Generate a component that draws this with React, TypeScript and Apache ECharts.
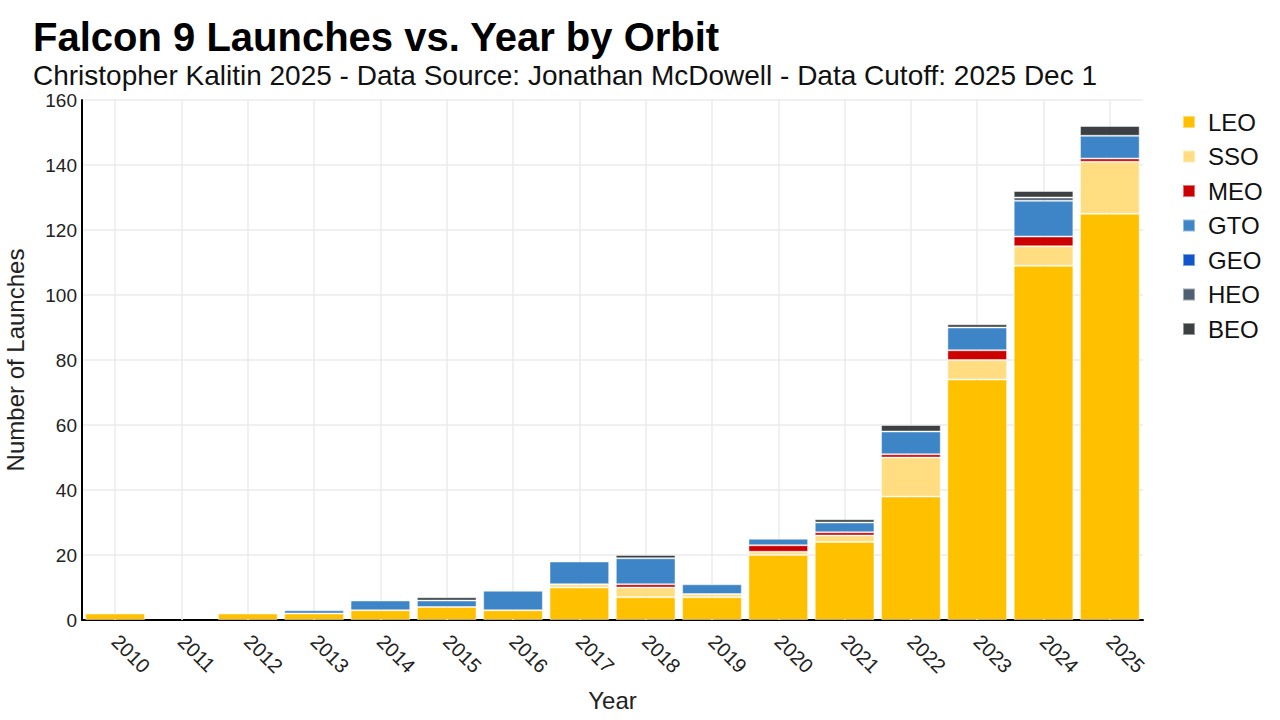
import React, { useEffect, useRef } from "react";
import * as echarts from "echarts";

const years = ["2010","2011","2012","2013","2014","2015","2016","2017","2018","2019","2020","2021","2022","2023","2024","2025"];
const leo = [2,0,2,2,3,4,3,10,7,7,20,24,38,74,109,125];
const sso = [0,0,0,0,0,0,0,1,3,1,1,2,12,6,6,16];
const meo = [0,0,0,0,0,0,0,0,1,0,2,1,1,3,3,1];
const gto = [0,0,0,1,3,2,6,7,8,3,2,3,7,7,11,7];
const geo = [0,0,0,0,0,0,0,0,0,0,0,0,0,0,0,0];
const heo = [0,0,0,0,0,0,0,0,0,0,0,0,0,0,1,0];
const beo = [0,0,0,0,0,1,0,0,1,0,0,1,2,1,2,3];
const yTicks = { min: 0, max: 160, interval: 20 };

const orbits = [
  { name: "LEO", data: leo, color: "#FFC000" },
  { name: "SSO", data: sso, color: "#FFDD80" },
  { name: "MEO", data: meo, color: "#CC0000" },
  { name: "GTO", data: gto, color: "#3D85C6" },
  { name: "GEO", data: geo, color: "#1155CC" },
  { name: "HEO", data: heo, color: "#4E5F72" },
  { name: "BEO", data: beo, color: "#3C4043" },
];

const FONT = "'Liberation Sans', Arial, sans-serif";

export default function App() {
  const ref = useRef<HTMLDivElement>(null);
  useEffect(() => {
    if (!ref.current) return;
    const chart = echarts.init(ref.current, null, { renderer: "svg" });
    const barSeries = orbits.map((o) => ({
      name: o.name,
      type: "bar",
      stack: "total",
      barCategoryGap: "10%",
      z: 3,
      itemStyle: { color: o.color, borderColor: "rgba(255,255,255,0.45)", borderWidth: 1 },
      emphasis: { disabled: true },
      data: o.data.map((v) => (v === 0 ? null : v)),
    }));
    chart.setOption({
      animation: false,
      textStyle: { fontFamily: FONT },
      title: {
        text: "Falcon 9 Launches vs. Year by Orbit",
        subtext: "Christopher Kalitin 2025 - Data Source: Jonathan McDowell - Data Cutoff: 2025 Dec 1",
        left: 28,
        top: 12,
        itemGap: 4,
        textStyle: { fontFamily: FONT, fontSize: 40, fontWeight: "bold", color: "#000" },
        subtextStyle: { fontFamily: FONT, fontSize: 28, color: "#111" },
      },
      legend: {
        orient: "vertical",
        left: 1177,
        top: 105,
        icon: "rect",
        itemWidth: 12,
        itemHeight: 12,
        itemGap: 10.5,
        data: orbits.map((o) => o.name),
        textStyle: { fontFamily: FONT, fontSize: 24, color: "#111", padding: [0, 0, 0, 8] },
        selectedMode: false,
      },
      grid: { left: 82, right: 137, top: 100, height: 520, containLabel: false, outerBoundsMode: "none" },
      xAxis: {
        type: "category",
        data: years,
        name: "Year",
        nameLocation: "middle",
        nameGap: 68,
        nameTextStyle: { fontFamily: FONT, fontSize: 24, color: "#222" },
        axisLine: { lineStyle: { color: "#000", width: 2 } },
        axisTick: { show: false },
        axisLabel: { rotate: -45, fontSize: 20, color: "#222", margin: 18, fontFamily: FONT },
        splitLine: { show: false },
      },
      yAxis: {
        type: "value",
        min: yTicks.min,
        max: yTicks.max,
        interval: yTicks.interval,
        name: "Number of Launches",
        nameLocation: "middle",
        nameGap: 55,
        nameTextStyle: { fontFamily: FONT, fontSize: 24, color: "#222" },
        axisLine: { show: true, lineStyle: { color: "#000", width: 2 } },
        axisTick: { show: false },
        axisLabel: { fontSize: 19, color: "#222", margin: 5, fontFamily: FONT },
        splitLine: { show: true, lineStyle: { color: "#ebebeb", width: 1.5 } },
      },
      series: [
        {
          name: "_vgrid",
          type: "line",
          data: [],
          z: 1,
          silent: true,
          markLine: {
            silent: true,
            z: 1,
            symbol: "none",
            label: { show: false },
            lineStyle: { color: "#ebebeb", width: 1.5, type: "solid" },
            data: years.map((y) => ({ xAxis: y })),
          },
        },
        ...barSeries,
      ],
    });
    return () => chart.dispose();
  }, []);
  return <div ref={ref} style={{ width: 1280, height: 720, position: "absolute", left: 0, top: 0 }} />;
}
